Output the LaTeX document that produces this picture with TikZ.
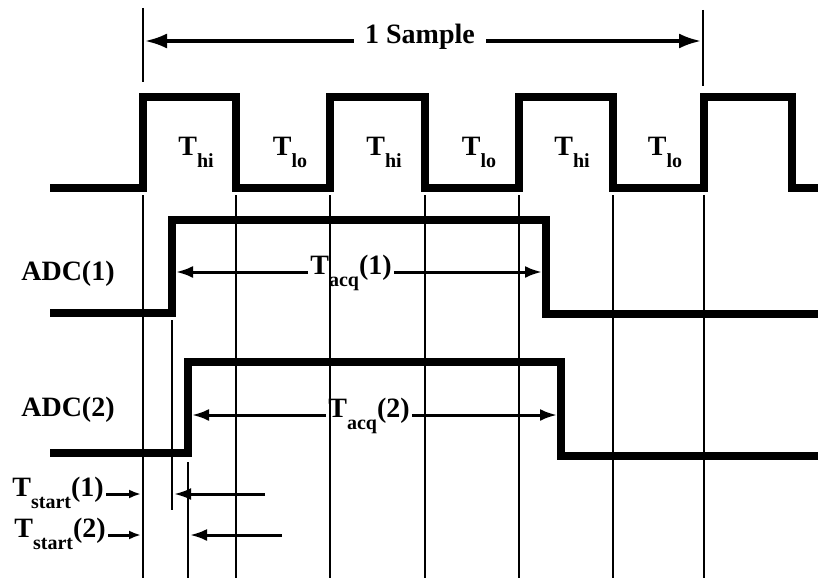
\documentclass[tikz,border=0pt]{standalone}
\usepackage{fontspec}
\setmainfont{Liberation Serif}
\usetikzlibrary{arrows.meta,positioning}

\newcommand{\tSub}[1]{T\raisebox{-12pt}{\fontsize{20}{20}\selectfont #1}}

\begin{document}
\begin{tikzpicture}[
  x=1pt, y=-1pt,
  font=\fontsize{28}{32}\selectfont\bfseries,
  wave/.style={line width=7.5pt},
  guide/.style={line width=2.8pt},
  flow/.style={-{Latex[length=17pt,width=12pt]}, line width=3pt},
  bigflow/.style={-{Latex[length=22pt,width=15pt]}, line width=3.2pt},
  smallflow/.style={-{Latex[length=12pt,width=9pt]}, line width=3pt},
  tag/.style={anchor=mid, inner sep=2pt}
]
\path[use as bounding box, fill=white] (0,0) rectangle (818,578);

%  Sample marker 
\draw[guide] (143,8) -- (143,82);
\draw[guide] (703,10) -- (703,86);
\node[anchor=mid, inner sep=11pt] (sample) at (420,41) {1 Sample};
\coordinate (sampleL) at (145,41);
\coordinate (sampleR) at (701,41);
\draw[bigflow] (sample.mid west) -- (sampleL);
\draw[bigflow] (sample.mid east) -- (sampleR);

%  Clock 
\draw[wave] (50,188) -| (143,97) -| (236,188) -| (330,97) -| (425,188)
  -| (519,97) -| (613,188) -| (704,97) -| (792,188) -- (818,188);

\node[anchor=base] (hi1) at (196,155) {\tSub{hi}};
\node[anchor=base] (lo1) at (290,155) {\tSub{lo}};
\node[anchor=base] (hi2) at (384,155) {\tSub{hi}};
\node[anchor=base] (lo2) at (479,155) {\tSub{lo}};
\node[anchor=base] (hi3) at (572,155) {\tSub{hi}};
\node[anchor=base] (lo3) at (665,155) {\tSub{lo}};

%  Guide lines 
\draw[guide] (143,195) -- (143,578);
\draw[guide] (236,195) -- (236,578);
\draw[guide] (330,195) -- (330,578);
\draw[guide] (425,195) -- (425,578);
\draw[guide] (519,195) -- (519,578);
\draw[guide] (613,195) -- (613,578);
\draw[guide] (704,195) -- (704,578);
\draw[guide] (172,320) -- (172,510);
\draw[guide] (188,462) -- (188,578);

%  ADC(1) 
\node (adc1) at (68,274) {ADC(1)};
\draw[wave] (50,313) -| (172,220) -| (546,314) -- (818,314);
\node[tag] (acq1) at (351,272) {\tSub{acq}(1)};
\coordinate (acq1L) at (176,272);
\coordinate (acq1R) at (542,272);
\draw[flow] (acq1.mid west) -- (acq1L);
\draw[flow] (acq1.mid east) -- (acq1R);

%  ADC(2) 
\node (adc2) at (68,410) {ADC(2)};
\draw[wave] (50,453) -| (188,362) -| (561,456) -- (818,456);
\node[tag] (acq2) at (369,415) {\tSub{acq}(2)};
\coordinate (acq2L) at (192,415);
\coordinate (acq2R) at (557,415);
\draw[flow] (acq2.mid west) -- (acq2L);
\draw[flow] (acq2.mid east) -- (acq2R);

%  Start delays 
\node[tag, anchor=mid east] (start1) at (106,494) {\tSub{start}(1)};
\node[tag, anchor=mid east] (start2) at (108,535) {\tSub{start}(2)};
\coordinate (start1L) at (141,494);
\coordinate (start2L) at (141,535);
\draw[smallflow] (start1.mid east) -- (start1L);
\draw[smallflow] (start2.mid east) -- (start2L);
\coordinate (start1R) at (265,494);
\coordinate (start1E) at (174,494);
\coordinate (start2R) at (282,535);
\coordinate (start2E) at (190,535);
\draw[flow] (start1R) -- (start1E);
\draw[flow] (start2R) -- (start2E);

\end{tikzpicture}
\end{document}
